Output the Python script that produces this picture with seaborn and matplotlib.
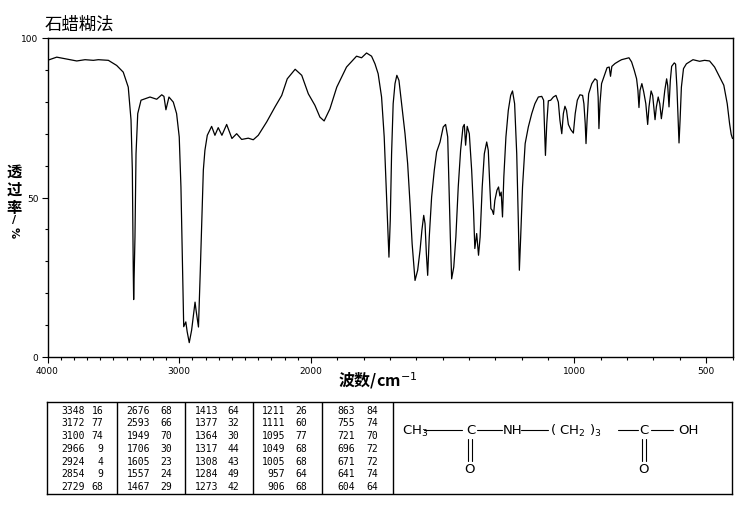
import numpy as np
import pandas as pd
import matplotlib
matplotlib.use("Agg")
import matplotlib.pyplot as plt
import seaborn as sns

# ---------------- data ----------------
wavenumber = [4000, 3930, 3867, 3778, 3715, 3652, 3614, 3538, 3475, 3425, 3387, 3366, 3356, 3349, 3346,
              3336, 3328, 3315, 3290, 3222, 3171, 3133, 3116, 3101, 3078, 3045, 3020, 3000, 2987, 2977,
              2966, 2950, 2940, 2924, 2906, 2880, 2872, 2854, 2840, 2825, 2817, 2805, 2787, 2754, 2729,
              2704, 2676, 2640, 2600, 2564, 2526, 2476, 2438, 2400, 2336, 2273, 2222, 2180, 2120, 2070,
              2020, 1985, 1966, 1950, 1928, 1902, 1865, 1827, 1808, 1789, 1770, 1757, 1745, 1732, 1722,
              1713, 1707, 1704, 1699, 1694, 1688, 1681, 1674, 1666, 1656, 1643, 1633, 1624, 1616, 1605,
              1595, 1586, 1579, 1572, 1567, 1562, 1557, 1551, 1542, 1532, 1523, 1510, 1498, 1489, 1481,
              1476, 1471, 1466, 1458, 1450, 1441, 1432, 1423, 1418, 1413, 1407, 1399, 1390, 1383, 1378,
              1371, 1364, 1358, 1350, 1342, 1333, 1327, 1321, 1317, 1312, 1307, 1302, 1294, 1288, 1283,
              1278, 1273, 1268, 1260, 1251, 1242, 1235, 1227, 1219, 1213, 1209, 1204, 1197, 1187, 1175,
              1162, 1150, 1137, 1124, 1117, 1114, 1110, 1105, 1099, 1090, 1080, 1070, 1061, 1055, 1048,
              1042, 1036, 1030, 1023, 1014, 1004, 997, 989, 979, 969, 964, 959, 956, 952, 946,
              934, 922, 914, 910, 907, 903, 897, 884, 876, 868, 863, 858, 846, 830, 821,
              793, 783, 773, 764, 759, 755, 751, 744, 737, 729, 722, 717, 709, 703, 698,
              694, 689, 682, 676, 670, 664, 657, 650, 646, 641, 636, 631, 621, 616, 611,
              606, 603, 599, 594, 586, 575, 550, 525, 506, 487, 468, 449, 433, 420, 411,
              405, 400]
transmittance = [93.0, 94.0, 93.5, 92.8, 93.2, 93.0, 93.2, 93.0, 91.4, 89.3, 84.6, 74.3, 58.6, 27.3, 18.0,
                 37.6, 63.7, 76.3, 80.5, 81.5, 80.8, 82.2, 81.7, 77.5, 81.5, 79.9, 76.3, 69.0, 53.3, 32.4,
                 9.5, 11.0, 8.0, 4.5, 8.4, 17.2, 14.6, 9.4, 27.2, 48.0, 58.6, 64.8, 69.5, 72.3, 69.5,
                 71.9, 69.5, 72.9, 68.5, 70.0, 68.2, 68.6, 68.1, 69.5, 73.7, 78.4, 82.0, 87.2, 90.2, 88.3,
                 82.5, 78.9, 75.2, 74.0, 77.8, 84.6, 90.9, 94.3, 93.8, 95.3, 94.3, 91.9, 88.8, 81.5, 69.0,
                 50.2, 37.6, 31.3, 42.8, 63.7, 79.4, 85.7, 88.3, 86.7, 79.4, 70.0, 60.6, 48.1, 35.5, 24.0,
                 27.2, 33.4, 39.7, 44.4, 41.8, 32.4, 25.6, 37.6, 50.2, 58.5, 64.3, 67.4, 72.1, 72.9, 69.0,
                 53.3, 37.6, 24.5, 28.2, 37.6, 53.3, 64.8, 72.1, 72.9, 66.4, 72.3, 70.0, 58.5, 46.0, 34.0,
                 38.7, 31.9, 37.6, 53.3, 63.7, 67.4, 64.8, 53.3, 46.5, 46.0, 44.7, 49.1, 52.3, 53.3, 50.5,
                 51.7, 43.9, 56.4, 69.0, 77.3, 82.0, 83.4, 79.4, 63.7, 42.8, 27.2, 37.6, 53.3, 66.9, 72.1,
                 76.3, 79.4, 81.5, 81.7, 80.5, 73.1, 63.2, 73.1, 80.3, 80.5, 81.5, 82.0, 79.9, 74.2, 70.0,
                 76.3, 78.6, 77.3, 72.9, 71.3, 70.2, 76.3, 80.5, 82.2, 82.0, 79.4, 73.1, 66.9, 74.2, 82.5,
                 85.7, 87.2, 86.7, 81.5, 71.6, 79.4, 85.7, 88.8, 90.7, 90.9, 88.0, 91.1, 92.0, 92.8, 93.2,
                 93.8, 92.5, 89.9, 87.2, 83.6, 78.2, 83.6, 85.7, 83.1, 79.4, 72.9, 78.4, 83.4, 82.0, 77.8,
                 74.4, 78.4, 81.5, 79.4, 74.7, 78.4, 83.6, 87.2, 85.1, 78.4, 86.7, 91.1, 92.2, 91.8, 84.6,
                 74.2, 67.1, 74.2, 84.6, 90.4, 91.9, 93.2, 92.7, 93.0, 92.8, 90.9, 87.8, 85.2, 79.4, 73.1,
                 69.8, 68.5]

peak_wn = [3348, 3172, 3100, 2966, 2924, 2854, 2729,
           2676, 2593, 1949, 1706, 1605, 1557, 1467,
           1413, 1377, 1364, 1317, 1308, 1284, 1273,
           1211, 1111, 1095, 1049, 1005, 957, 906,
           863, 755, 721, 696, 671, 641, 604]
peak_T = [16, 77, 74, 9, 4, 9, 68,
          68, 66, 70, 30, 23, 24, 29,
          64, 32, 30, 44, 43, 49, 42,
          26, 60, 77, 68, 68, 64, 68,
          84, 74, 70, 72, 72, 74, 64]

x_major = [4000, 3000, 2000, 1000, 500]
x_major_labels = ["4000", "3000", "2000", "1000", "500"]
y_major = [0, 50, 100]
y_major_labels = ["0", "50", "100"]

title_text = "石蜡糊法"
xlabel_text = "波数/cm$^{-1}$"
ylabel_chars = ["透", "过", "率"]

# ---------------- figure ----------------
W, H = 738, 510
sns.set_theme(style="white")
plt.rcParams['font.family'] = ['Noto Sans CJK SC', 'DejaVu Sans']
plt.rcParams['mathtext.fontset'] = 'dejavusans'

fig = plt.figure(figsize=(W / 100, H / 100), dpi=100)
fig.patch.set_facecolor("white")


def fx(px):
    return px / W


def fy(py):
    return 1 - py / H


L, R, T_, B = 47.5, 732.5, 39, 358
ax = fig.add_axes([fx(L), fy(B), fx(R - L), (B - T_) / H])
ax.set_facecolor("white")


def fwd(w):
    w = np.asarray(w, dtype=float)
    return np.where(w >= 2000, 1000 + (w - 2000) / 2.0, w - 1000)


def inv(x):
    x = np.asarray(x, dtype=float)
    return np.where(x >= 1000, 2000 + (x - 1000) * 2.0, x + 1000)


ax.set_xscale("function", functions=(fwd, inv))

df = pd.DataFrame({"wn": wavenumber, "T": transmittance})
sns.lineplot(data=df, x="wn", y="T", ax=ax, sort=False, estimator=None,
             color="black", linewidth=0.9)

ax.set_xlim(4000, 400)
ax.set_ylim(0, 100)
ax.set_xlabel("")
ax.set_ylabel("")

ax.set_xticks(x_major)
ax.set_xticklabels(x_major_labels)
ax.set_xticks([v for v in range(3900, 399, -100) if v not in x_major], minor=True)
ax.set_yticks(y_major)
ax.set_yticklabels(y_major_labels)
ax.set_yticks([v for v in range(10, 100, 10) if v not in y_major], minor=True)

for lab in ax.get_xticklabels() + ax.get_yticklabels():
    lab.set_family(['DejaVu Sans'])
    lab.set_fontsize(6.5)
    lab.set_color("black")

ax.tick_params(axis="both", which="major", direction="out", length=4.5, width=0.8,
               color="black", pad=2, bottom=True, left=True)
ax.tick_params(axis="both", which="minor", direction="out", length=2.5, width=0.8,
               color="black", bottom=True, left=True)
for s in ax.spines.values():
    s.set_visible(True)
    s.set_color("black")
    s.set_linewidth(1.0)
ax.grid(False)

# title
fig.text(fx(45), fy(25), title_text, fontsize=12.5, ha="left", va="center", color="black")
# x label
fig.text(fx(378), fy(381), xlabel_text, fontsize=11.5, ha="center", va="center",
         color="black", fontweight="bold")
# y label (vertical stacked)
for ch, yy in zip(ylabel_chars, [172, 190, 208]):
    fig.text(fx(14), fy(yy), ch, fontsize=11, ha="center", va="center",
             color="black", fontweight="bold")
fig.text(fx(14), fy(220), "/", fontsize=8, ha="center", va="center", color="black",
         family=['DejaVu Sans'], fontweight="bold")
fig.text(fx(14), fy(233), "%", fontsize=8, ha="center", va="center", color="black",
         rotation=-90, family=['DejaVu Sans'], fontweight="bold")

# ---------------- peak table ----------------
TL, TR, TT, TB = 46.7, 732.3, 402.7, 495
tax = fig.add_axes([fx(TL), fy(TB), fx(TR - TL), (TB - TT) / H])
tax.set_xlim(TL, TR)
tax.set_ylim(TB, TT)
tax.set_xticks([])
tax.set_yticks([])
tax.set_facecolor("white")
for s in tax.spines.values():
    s.set_visible(True)
    s.set_color("black")
    s.set_linewidth(1.0)
for xs in [117.3, 184.5, 253.3, 321.7, 392.7]:
    tax.plot([xs, xs], [TT, TB], color="black", lw=1.0)

wn_right = [85, 150, 218.3, 285, 355]
t_right = [103.3, 171.7, 239, 306.7, 378.3]
nrows = 7
for i, (pw, pt) in enumerate(zip(peak_wn, peak_T)):
    col, row = divmod(i, nrows)
    yy = 410.7 + row * 12.75
    tax.text(wn_right[col], yy, str(pw), ha="right", va="center", fontsize=7,
             family=['DejaVu Sans Mono'], color="black")
    tax.text(t_right[col], yy, str(pt), ha="right", va="center", fontsize=7,
             family=['DejaVu Sans Mono'], color="black")

# structure formula
fs = 9.5
fam = ['DejaVu Sans']
ym = 431
tax.text(401.7, ym, "CH$_3$", ha="left", va="center", fontsize=fs, family=fam, color="black")
tax.plot([424, 462], [ym, ym], color="black", lw=0.8)
tax.text(470.5, ym, "C", ha="center", va="center", fontsize=fs, family=fam, color="black")
tax.plot([477, 502], [ym, ym], color="black", lw=0.8)
tax.text(503, ym, "NH", ha="left", va="center", fontsize=fs, family=fam, color="black")
tax.plot([521, 548], [ym, ym], color="black", lw=0.8)
tax.text(550, ym, "( CH$_2$ )$_3$", ha="left", va="center", fontsize=fs, family=fam, color="black")
tax.plot([618, 638], [ym, ym], color="black", lw=0.8)
tax.text(644, ym, "C", ha="center", va="center", fontsize=fs, family=fam, color="black")
tax.plot([651, 673], [ym, ym], color="black", lw=0.8)
tax.text(678, ym, "OH", ha="left", va="center", fontsize=fs, family=fam, color="black")
for cx in [469.5, 643.5]:
    tax.plot([cx - 2, cx - 2], [440, 462], color="black", lw=0.8)
    tax.plot([cx + 2, cx + 2], [440, 462], color="black", lw=0.8)
    tax.text(cx, 470, "O", ha="center", va="center", fontsize=fs, family=fam, color="black")

fig.savefig("out.png", dpi=100, facecolor="white")
